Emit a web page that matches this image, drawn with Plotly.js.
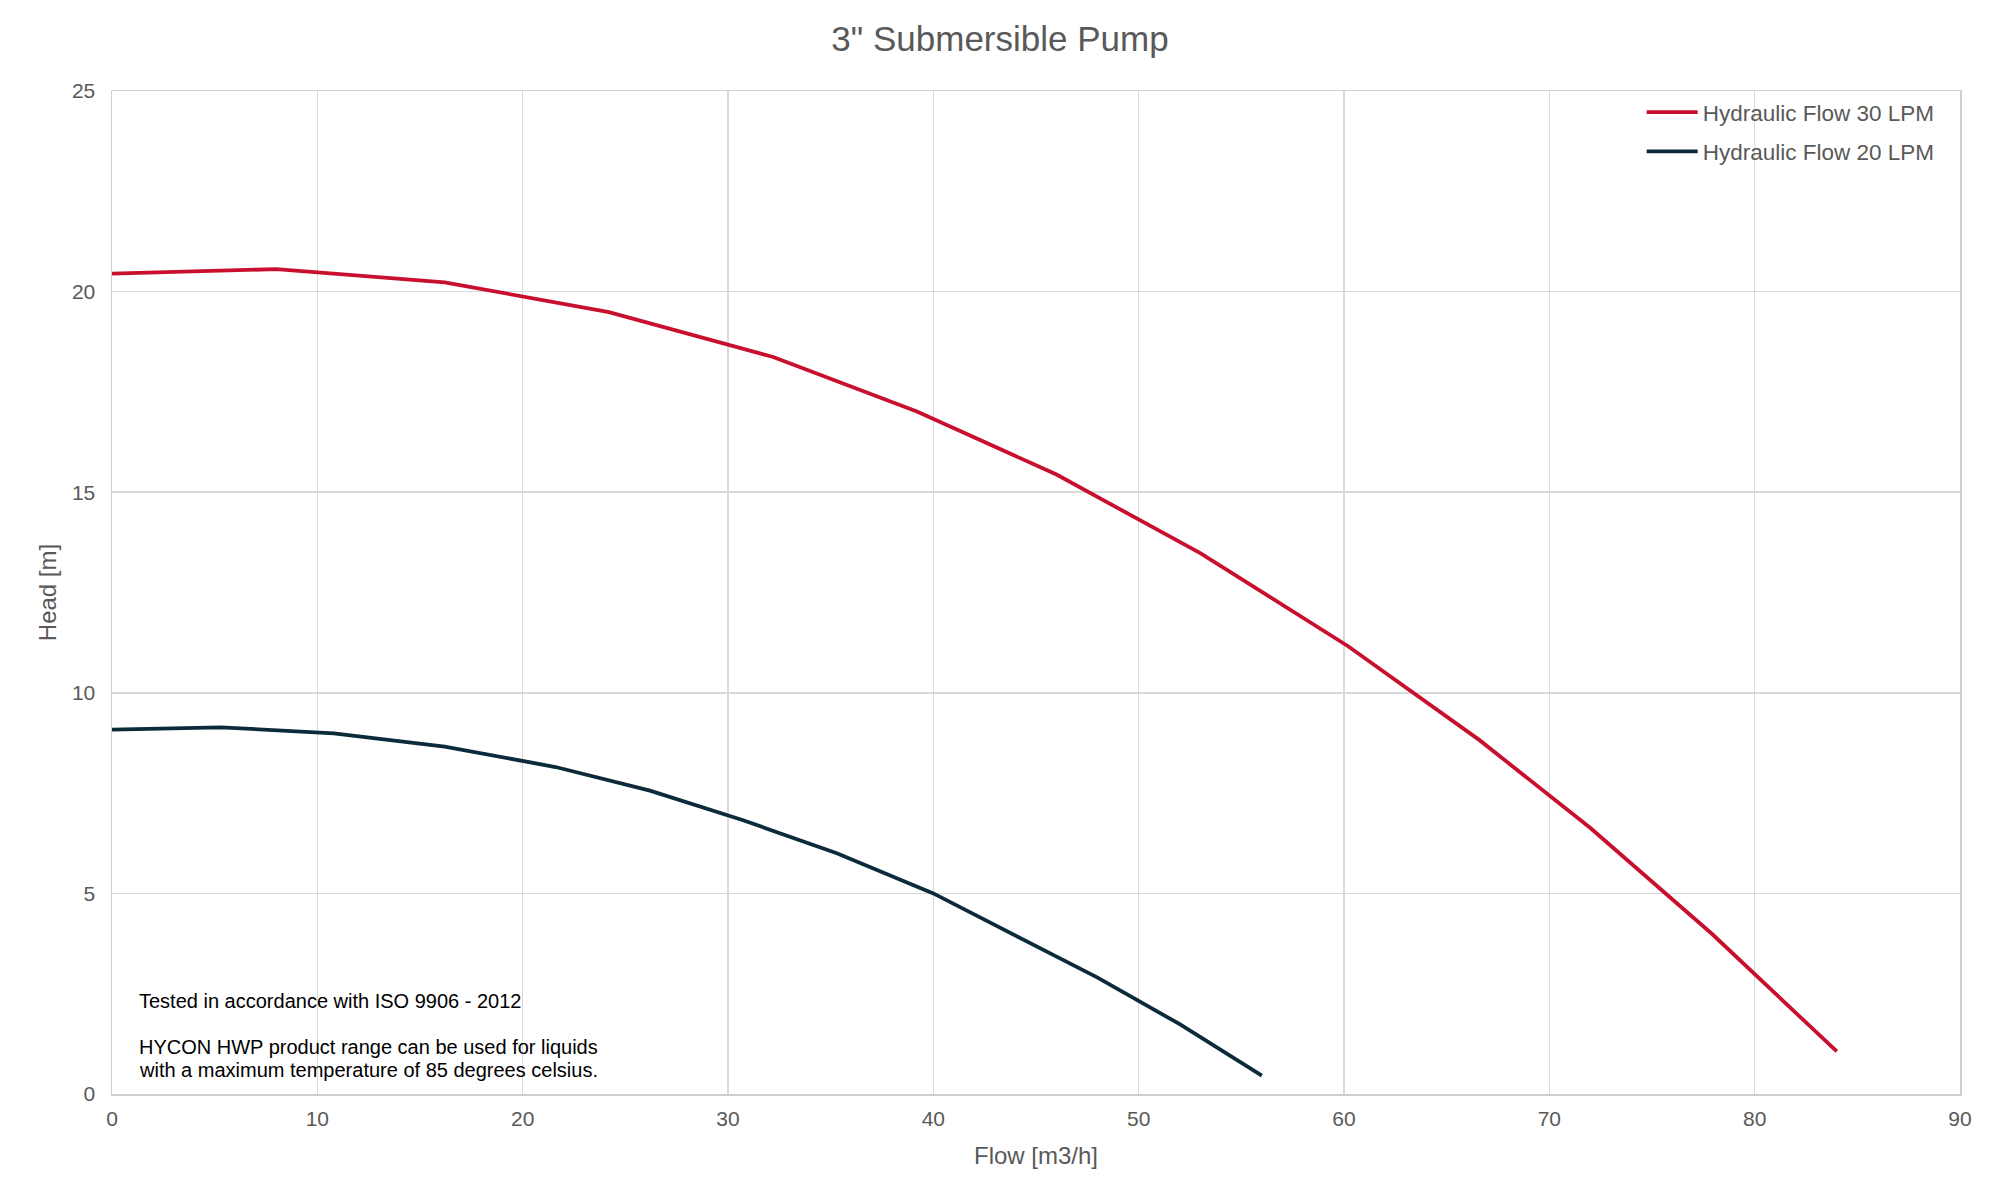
<!DOCTYPE html>
<html>
<head>
<meta charset="utf-8">
<script src="https://cdn.plot.ly/plotly-3.0.1.min.js"></script>
<style>
  html, body { margin: 0; padding: 0; background: #fff; }
  #chart { width: 2000px; height: 1200px; }
</style>
</head>
<body>
<div id="chart"></div>
<script>
// pump curve readings, flow [m3/h] vs head [m]
var flow30 = [0, 8, 16.2, 24.2, 32.2, 39.2, 46, 53, 60.2, 66.6, 72, 77.9, 84];
var head30 = [20.45, 20.56, 20.23, 19.49, 18.37, 17.01, 15.44, 13.48, 11.16, 8.82, 6.63, 4.0, 1.06];

var flow20 = [0, 5.3, 10.8, 16.2, 21.6, 26.2, 30.7, 35.3, 40, 44.2, 48, 52, 56];
var head20 = [9.08, 9.14, 8.99, 8.66, 8.15, 7.56, 6.83, 6.0, 5.0, 3.9, 2.9, 1.74, 0.46];

var seriesNames = ["Hydraulic Flow 30 LPM", "Hydraulic Flow 20 LPM"];
var seriesColors = ["#C8102E", "#0B2B3B"];

// note block, one entry per line (the blank line is just a gap)
var noteLines = [
  "Tested in accordance with ISO 9906 - 2012",
  "HYCON HWP product range can be used for liquids",
  "with a maximum temperature of 85 degrees celsius."
];
var noteY = [2.33, 1.18, 0.59];

var fontFam = "Liberation Sans, Arial, sans-serif";
var grey = "#595959";

var data = [
  {
    x: flow30, y: head30, name: seriesNames[0],
    type: "scatter", mode: "lines",
    line: {color: seriesColors[0], width: 3.8},
    legendgroup: "a"
  },
  {
    x: flow20, y: head20, name: seriesNames[1],
    type: "scatter", mode: "lines",
    line: {color: seriesColors[1], width: 3.8},
    legendgroup: "b"
  }
];

var axisCommon = {
  showgrid: true,
  gridcolor: "#d9d9d9",
  gridwidth: 1.5,
  zeroline: false,
  showline: true,
  mirror: true,
  linecolor: "#cfcfcf",
  linewidth: 1.5,
  ticks: "outside",
  tickcolor: "rgba(0,0,0,0)",
  tickfont: {family: fontFam, size: 21, color: grey}
};

var notes = noteLines.map(function (txt, i) {
  return {
    text: txt,
    xref: "x", yref: "y",
    x: 1.2, y: noteY[i],
    xanchor: "left", yanchor: "middle",
    align: "left",
    showarrow: false,
    font: {family: fontFam, size: 20, color: "#000"}
  };
});

var layout = {
  width: 2000,
  height: 1200,
  paper_bgcolor: "#fff",
  plot_bgcolor: "#fff",
  margin: {l: 112, r: 40, t: 91, b: 106},
  font: {family: fontFam, color: grey},
  title: {
    text: "3\" Submersible Pump",
    font: {family: fontFam, size: 35, color: grey},
    x: 0.5, xanchor: "center",
    y: 0.968, yanchor: "middle"
  },
  xaxis: Object.assign({}, axisCommon, {
    range: [0, 90],
    dtick: 10,
    ticklen: 5,
    title: {text: "Flow [m3/h]", font: {family: fontFam, size: 24, color: grey}, standoff: 18}
  }),
  yaxis: Object.assign({}, axisCommon, {
    range: [0, 25],
    dtick: 5,
    ticklen: 11,
    title: {text: "Head [m]", font: {family: fontFam, size: 24, color: grey}, standoff: 8}
  }),
  showlegend: true,
  legend: {
    x: 0.989, xanchor: "right",
    y: 1.0, yanchor: "top",
    bgcolor: "rgba(0,0,0,0)",
    font: {family: fontFam, size: 22.5, color: grey},
    itemwidth: 51,
    traceorder: "grouped",
    tracegroupgap: 7
  },
  annotations: notes
};

Plotly.newPlot("chart", data, layout, {displayModeBar: false, staticPlot: true});
</script>
</body>
</html>
